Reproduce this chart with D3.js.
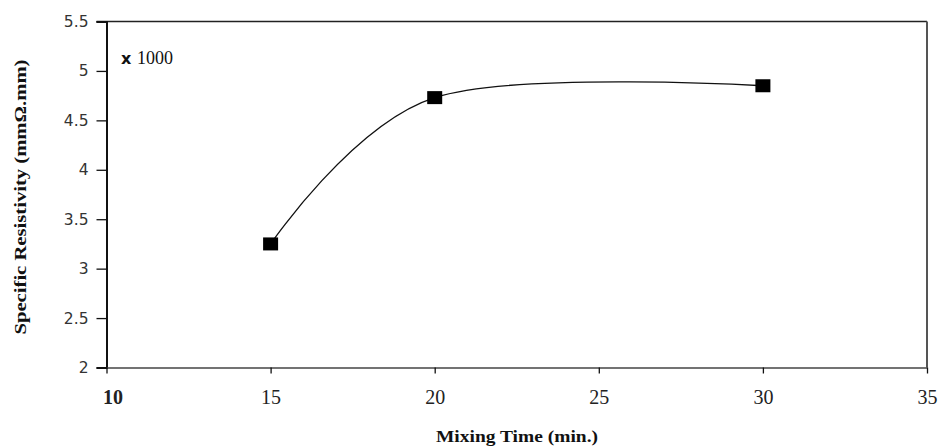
<!DOCTYPE html>
<html><head><meta charset="utf-8">
<script src="https://cdn.jsdelivr.net/npm/d3@7"></script>
<style>body{margin:0;background:#fff}</style>
</head><body>
<svg id="c" width="940" height="447"></svg>
<script>
const mixingTime = [15, 20, 30];
const resistivity = [3.25, 4.73, 4.85];
const xTicks = [10, 15, 20, 25, 30, 35];
const yTicks = [2, 2.5, 3, 3.5, 4, 4.5, 5, 5.5];
const xTitle = "Mixing Time (min.)";
const yTitle = "Specific Resistivity (mmΩ.mm)";
const note = "1000";

const svg = d3.select("#c");
const L = 106.5, R = 927, T = 21.5, B = 367.5;
const x = d3.scaleLinear().domain([10, 35]).range([L, R]);
const y = d3.scaleLinear().domain([2, 5.5]).range([B, T]);

// frame: top and right
svg.append("line").attr("x1", L - 10).attr("x2", R).attr("y1", T).attr("y2", T)
  .attr("stroke", "#222").attr("stroke-width", 1.5);
svg.append("line").attr("x1", R).attr("x2", R).attr("y1", T).attr("y2", B)
  .attr("stroke", "#555").attr("stroke-width", 2);

// y axis
const ya = svg.append("g").attr("transform", `translate(${L},0)`)
  .call(d3.axisLeft(y).tickValues(yTicks).tickSize(10).tickPadding(8).tickFormat(d => String(d)));
ya.select(".domain").attr("stroke", "#111").attr("stroke-width", 2);
ya.selectAll(".tick line").attr("stroke", "#111").attr("stroke-width", 1.3);
ya.selectAll(".tick text").attr("font-family", "DejaVu Sans").attr("font-size", 15.5).attr("fill", "#333");

// x axis
const xa = svg.append("g").attr("transform", `translate(0,${B})`)
  .call(d3.axisBottom(x).tickValues(xTicks).tickSize(6).tickPadding(16).tickSizeOuter(0));
xa.select(".domain").attr("stroke", "#444").attr("stroke-width", 1.3);
xa.selectAll(".tick line").attr("stroke", "#111").attr("stroke-width", 1.3);
xa.selectAll(".tick text").attr("font-family", "Liberation Serif").attr("font-size", 20).attr("fill", "#222")
  .attr("font-weight", d => d === 10 ? "bold" : "normal")
  .attr("transform", d => d === 10 ? "translate(6,0)" : null);

// titles
svg.append("text").attr("x", 517).attr("y", 442).attr("text-anchor", "middle")
  .attr("font-family", "Liberation Serif").attr("font-weight", "bold").attr("font-size", 17)
  .attr("textLength", 162).attr("lengthAdjust", "spacingAndGlyphs").attr("fill", "#111").text(xTitle);
svg.append("text").attr("transform", "translate(26,197) rotate(-90)").attr("text-anchor", "middle")
  .attr("font-family", "Liberation Serif").attr("font-weight", "bold").attr("font-size", 17)
  .attr("textLength", 275).attr("lengthAdjust", "spacingAndGlyphs").attr("fill", "#111").text(yTitle);

const nt = svg.append("text").attr("x", 121).attr("y", 64).attr("font-size", 16).attr("fill", "#111");
nt.append("tspan").attr("font-family", "DejaVu Sans").attr("font-weight", "bold").text("x ");
nt.append("tspan").attr("font-family", "Liberation Serif").attr("font-size", 18).text(note);

// smoothed line
const pts = mixingTime.map((t, i) => [t, resistivity[i]]);
const line = d3.line().x(d => x(d[0])).y(d => y(d[1])).curve(d3.curveCardinal.tension(0));
svg.append("path").attr("d", line(pts)).attr("fill", "none").attr("stroke", "#111").attr("stroke-width", 1.3);

// markers
svg.selectAll("rect.m").data(pts).join("rect").attr("class", "m")
  .attr("x", d => x(d[0]) - 7.5).attr("y", d => y(d[1]) - 6.5)
  .attr("width", 15).attr("height", 13).attr("fill", "#000");
</script>
</body></html>
